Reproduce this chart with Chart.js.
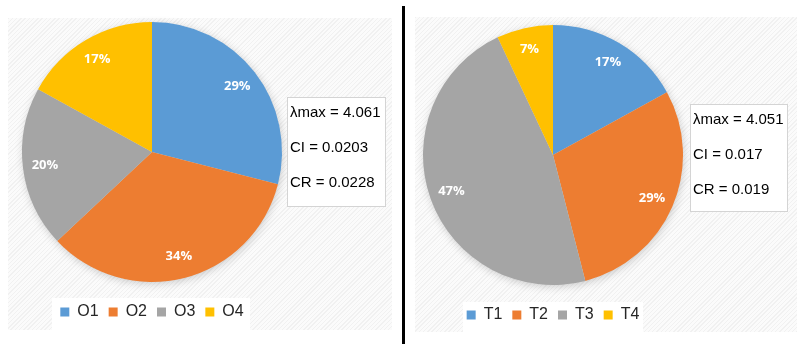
<!DOCTYPE html>
<html>
<head>
<meta charset="utf-8">
<script src="https://cdn.jsdelivr.net/npm/chart.js@4"></script>
<style>
    body { margin: 0; background: #fff; width: 807px; height: 359px; overflow: hidden; position: relative; font-family: "Liberation Sans", Arial, sans-serif; }
    .panel { position: absolute; background: repeating-linear-gradient(135deg, #f1f1f1 0px, #f1f1f1 1px, #fbfbfb 1px, #fbfbfb 3px); }
    .legendBg { position: absolute; background: #fff; }
    .info { position: absolute; background: #fff; border: 1px solid #d4d4d4; box-sizing: border-box; }
    .info div { position: absolute; left: 2px; top: -4px; line-height: 35px; font-size: 15px; color: #000; white-space: nowrap; }
    canvas { position: absolute; top: 0; }
    .divider { position: absolute; left: 402px; top: 6px; width: 3px; height: 338px; background: #000; }
</style>
</head>
<body>

<div class="panel" style="left:8px; top:18px; width:384px; height:312px;"></div>
<div class="legendBg" style="left:52px; top:298px; width:198px; height:32px;"></div>
<div class="panel" style="left:415px; top:17px; width:382px; height:315px;"></div>
<div class="legendBg" style="left:463px; top:302px; width:180px; height:30px;"></div>
<div class="divider"></div>

<canvas id="chartO" width="288" height="359" style="left:8px;"></canvas>
<canvas id="chartT" width="288" height="359" style="left:409px;"></canvas>

<div class="info" style="left:287px; top:97px; width:99px; height:110px;">
    <div id="infoO"></div>
</div>
<div class="info" style="left:690px; top:104px; width:98px; height:108px;">
    <div id="infoT"></div>
</div>

<script>
// ===== DATA =====
const labelsO = ["O1", "O2", "O3", "O4"];
const valuesO = [29, 34, 20, 17];
const statsO = ["λmax = 4.061", "CI = 0.0203", "CR = 0.0228"];

const labelsT = ["T1", "T2", "T3", "T4"];
const valuesT = [17, 29, 47, 7];
const statsT = ["λmax = 4.051", "CI = 0.017", "CR = 0.019"];

const colors = ["#5B9BD5", "#ED7D31", "#A5A5A5", "#FFC000"];

// shadow behind the pie
const pieShadow = {
    id: "pieShadow",
    beforeDatasetsDraw(chart) {
        const arc = chart.getDatasetMeta(0).data[0];
        if (!arc) return;
        const ctx = chart.ctx;
        ctx.save();
        ctx.shadowColor = "rgba(0,0,0,0.22)";
        ctx.shadowBlur = 10;
        ctx.shadowOffsetX = 1;
        ctx.shadowOffsetY = 2;
        ctx.fillStyle = "#ddd";
        ctx.beginPath();
        ctx.arc(arc.x, arc.y, arc.outerRadius - 1, 0, Math.PI * 2);
        ctx.fill();
        ctx.restore();
    }
};

// percent labels inside slices
const sliceLabels = {
    id: "sliceLabels",
    afterDatasetsDraw(chart) {
        const ctx = chart.ctx;
        const values = chart.data.datasets[0].data;
        ctx.save();
        ctx.fillStyle = "#fff";
        ctx.font = "bold 13px 'Open Sans', sans-serif";
        ctx.textAlign = "center";
        ctx.textBaseline = "middle";
        chart.getDatasetMeta(0).data.forEach((arc, i) => {
            const mid = (arc.startAngle + arc.endAngle) / 2;
            const r = arc.outerRadius * 0.83;
            ctx.fillText(values[i] + "%", arc.x + Math.cos(mid) * r, arc.y + Math.sin(mid) * r);
        });
        ctx.restore();
    }
};

function makePie(id, labels, values, padTop, padBottom) {
    return new Chart(document.getElementById(id).getContext("2d"), {
        type: "pie",
        data: {
            labels: labels,
            datasets: [{
                data: values,
                backgroundColor: colors,
                borderWidth: 0,
                radius: 130
            }]
        },
        options: {
            responsive: false,
            animation: false,
            devicePixelRatio: 1,
            layout: { padding: { top: padTop, bottom: padBottom } },
            plugins: {
                tooltip: { enabled: false },
                legend: {
                    position: "bottom",
                    labels: {
                        boxWidth: 9,
                        boxHeight: 9,
                        padding: 10,
                        color: "#262626",
                        font: { size: 16, family: "'Liberation Sans', Arial, sans-serif" }
                    }
                }
            }
        },
        plugins: [pieShadow, sliceLabels]
    });
}

makePie("chartO", labelsO, valuesO, 10, 29);
makePie("chartT", labelsT, valuesT, 13, 26);

document.getElementById("infoO").innerHTML = statsO.join("<br>");
document.getElementById("infoT").innerHTML = statsT.join("<br>");
</script>
</body>
</html>
